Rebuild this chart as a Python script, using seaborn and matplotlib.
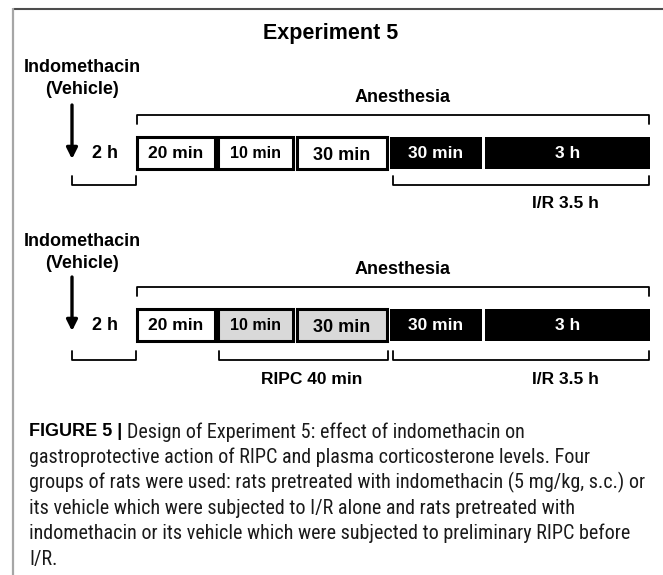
"""
Experiment 5 design diagram (timeline of boxes and brackets)
"""
import matplotlib
matplotlib.use("Agg")
import matplotlib.pyplot as plt
import seaborn as sns

# ---- content ----
title = "Experiment 5"
drug_label = ["Indomethacin", "(Vehicle)"]
pre_label = "2 h"
phase_labels = ["20 min", "10 min", "30 min", "30 min", "3 h"]
phase_kind_top = ["rest", "rest", "rest", "ir", "ir"]
phase_kind_bottom = ["rest", "ripc", "ripc", "ir", "ir"]
anesthesia_label = "Anesthesia"
below_top = ["I/R 3.5 h"]
below_bottom = ["RIPC 40 min", "I/R 3.5 h"]
caption_bold = "FIGURE 5 |"
caption_lines = [
    "Design of Experiment 5: effect of indomethacin on",
    "gastroprotective action of RIPC and plasma corticosterone levels. Four",
    "groups of rats were used: rats pretreated with indomethacin (5 mg/kg, s.c.) or",
    "its vehicle which were subjected to I/R alone and rats pretreated with",
    "indomethacin or its vehicle which were subjected to preliminary RIPC before",
    "I/R.",
]

# ---- layout (pixels) ----
box_left = [137, 218, 297, 390, 485]
box_right = [215, 293, 387, 482, 650]
label_size = [12.5, 11.5, 13, 12.5, 12.5]
label_dy = [0, -1, 1.5, 0, 0]
fill_of = {"rest": "white", "ripc": "#d9d9d9", "ir": "black"}

sns.set_theme(style="white")
plt.rcParams["font.family"] = ["Liberation Sans", "DejaVu Sans"]
plt.rcParams["text.color"] = "black"
cap_font = ["Roboto Condensed", "Liberation Sans", "DejaVu Sans"]

fig = plt.figure(figsize=(6.63, 5.75), dpi=100)
ax = fig.add_axes([0, 0, 1, 1])
ax.set_xlim(0, 663)
ax.set_ylim(575, 0)
ax.axis("off")

# frame
ax.plot([13, 663], [8.5, 8.5], color="#4d4d4d", lw=1.5, solid_capstyle="butt")
ax.plot([13, 13], [8, 575], color="#a6a6a6", lw=1.6, solid_capstyle="butt")

ax.text(331, 34, title, ha="center", va="center", fontsize=15.5, fontweight="bold")


def bracket(x0, x1, y, up=True, h=9):
    dy = -h if up else h
    ax.plot([x0, x0, x1, x1], [y + dy, y, y, y + dy], color="black", lw=1.3)


def panel(y_top, kinds, y_box, y_low, below):
    ax.text(82, y_top, drug_label[0], ha="center", va="center",
            fontsize=13, fontweight="bold")
    ax.text(82, y_top + 21, drug_label[1], ha="center", va="center",
            fontsize=13, fontweight="bold")
    ax.annotate("", xy=(72, y_box + 22), xytext=(72, y_box - 32),
                arrowprops=dict(arrowstyle="-|>", color="black", lw=2.4,
                                mutation_scale=16, shrinkA=0, shrinkB=0))
    # anesthesia bracket
    ax.text(403, y_box - 40, anesthesia_label, ha="center", va="center",
            fontsize=13, fontweight="bold")
    bracket(137, 649, y_box - 22, up=False)
    # boxes
    widths = [r - l for l, r in zip(box_left, box_right)]
    colors = [fill_of[k] for k in kinds]
    for l, w, c, k in zip(box_left, widths, colors, kinds):
        ax.barh(y_box + 16, w, left=l, height=32, color=c,
                edgecolor="black", linewidth=0 if k == "ir" else 2.2)
    for l, r, lab, k, fs, d in zip(box_left, box_right, phase_labels, kinds,
                                   label_size, label_dy):
        ax.text((l + r) / 2, y_box + 17 + d, lab, ha="center", va="center",
                fontsize=fs, fontweight="bold",
                color="white" if k == "ir" else "black")
    ax.text(105, y_box + 17, pre_label, ha="center", va="center",
            fontsize=13, fontweight="bold")
    # brackets below
    bracket(72, 136, y_low)
    if len(below) == 2:
        bracket(219, 388, y_low)
        ax.text(312, y_low + 20, below[0], ha="center", va="center",
                fontsize=12.5, fontweight="bold")
    bracket(393, 649, y_low)
    ax.text(565, y_low + 19, below[-1], ha="center", va="center",
            fontsize=12.5, fontweight="bold")


panel(68, phase_kind_top, 137, 185, below_top)
panel(242, phase_kind_bottom, 309, 360, below_bottom)

# caption
y0, dy = 432, 25.4
t = ax.text(29, y0, caption_bold, ha="left", va="center", fontsize=13,
            fontweight="bold")
fig.canvas.draw()
bb = t.get_window_extent()
x_after = ax.transData.inverted().transform((bb.x1, 0))[0] + 5
ax.text(x_after, y0, caption_lines[0], ha="left", va="center", fontsize=14.5,
        family=cap_font, color="#1a1a1a")
for i, line in enumerate(caption_lines[1:]):
    ax.text(29, y0 + dy * (i + 1), line, ha="left", va="center", fontsize=14.5,
            family=cap_font, color="#1a1a1a")

fig.savefig("out.png", dpi=100)
